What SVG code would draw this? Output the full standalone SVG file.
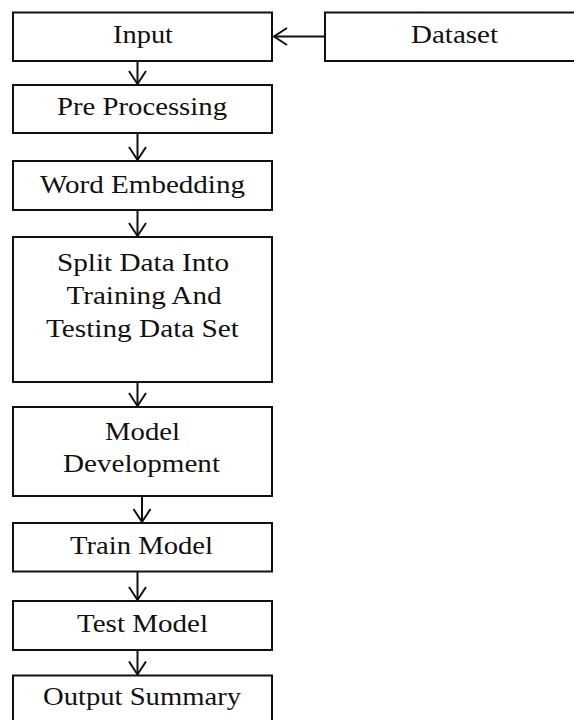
<svg xmlns="http://www.w3.org/2000/svg" width="574" height="720" viewBox="0 0 574 720">
  <style>
    .box { fill: #ffffff; stroke: #111111; stroke-width: 2; }
    .lbl { font-family: "Liberation Serif", "Times New Roman", serif; font-size: 25px; fill: #111111; text-anchor: middle; }
    .wire { fill: none; stroke: #111111; stroke-width: 2; }
  </style>
  <defs>
    <marker id="head" markerUnits="userSpaceOnUse" markerWidth="22" markerHeight="22" refX="14" refY="10" orient="auto">
      <path d="M1,1.5 L14,10 L1,18.5" fill="none" stroke="#111111" stroke-width="2"/>
    </marker>
  </defs>
  <rect width="574" height="720" fill="#ffffff"/>

  <g id="input">
    <rect class="box" x="13" y="12.5" width="259" height="48.5"/>
    <text class="lbl" x="143" y="43" textLength="60" lengthAdjust="spacingAndGlyphs">Input</text>
  </g>
  <g id="dataset">
    <rect class="box" x="325" y="12.5" width="262" height="48.5"/>
    <text class="lbl" x="454.5" y="43" textLength="87" lengthAdjust="spacingAndGlyphs">Dataset</text>
  </g>
  <g id="preprocessing">
    <rect class="box" x="13" y="85" width="259" height="48"/>
    <text class="lbl" x="142" y="115" textLength="170" lengthAdjust="spacingAndGlyphs">Pre Processing</text>
  </g>
  <g id="word-embedding">
    <rect class="box" x="13" y="161" width="259" height="49"/>
    <text class="lbl" x="142.5" y="192.5" textLength="205" lengthAdjust="spacingAndGlyphs">Word Embedding</text>
  </g>
  <g id="split-data">
    <rect class="box" x="13" y="237" width="259" height="145"/>
    <text class="lbl" x="143" y="271" textLength="172" lengthAdjust="spacingAndGlyphs">Split Data Into</text>
    <text class="lbl" x="144" y="304" textLength="155" lengthAdjust="spacingAndGlyphs">Training And</text>
    <text class="lbl" x="142.5" y="337" textLength="193" lengthAdjust="spacingAndGlyphs">Testing Data Set</text>
  </g>
  <g id="model-development">
    <rect class="box" x="13" y="407" width="259" height="89"/>
    <text class="lbl" x="142.5" y="440" textLength="75" lengthAdjust="spacingAndGlyphs">Model</text>
    <text class="lbl" x="141.5" y="472" textLength="157" lengthAdjust="spacingAndGlyphs">Development</text>
  </g>
  <g id="train-model">
    <rect class="box" x="13" y="523" width="259" height="48.5"/>
    <text class="lbl" x="141.5" y="553.5" textLength="143" lengthAdjust="spacingAndGlyphs">Train Model</text>
  </g>
  <g id="test-model">
    <rect class="box" x="13" y="601" width="259" height="49"/>
    <text class="lbl" x="142.5" y="632" textLength="131" lengthAdjust="spacingAndGlyphs">Test Model</text>
  </g>
  <g id="output-summary">
    <rect class="box" x="13" y="675.5" width="259" height="60"/>
    <text class="lbl" x="142" y="705" textLength="198" lengthAdjust="spacingAndGlyphs">Output Summary</text>
  </g>

  <g id="connectors">
    <line class="wire" x1="325" y1="36.5" x2="274" y2="36.5" marker-end="url(#head)"/>
    <line class="wire" x1="137.5" y1="61" x2="137.5" y2="84" marker-end="url(#head)"/>
    <line class="wire" x1="137.5" y1="133" x2="137.5" y2="160" marker-end="url(#head)"/>
    <line class="wire" x1="137.5" y1="210" x2="137.5" y2="236" marker-end="url(#head)"/>
    <line class="wire" x1="137.5" y1="382" x2="137.5" y2="406" marker-end="url(#head)"/>
    <line class="wire" x1="142" y1="496" x2="142" y2="522" marker-end="url(#head)"/>
    <line class="wire" x1="137.5" y1="571.5" x2="137.5" y2="600" marker-end="url(#head)"/>
    <line class="wire" x1="137.5" y1="650" x2="137.5" y2="674.5" marker-end="url(#head)"/>
  </g>
</svg>
